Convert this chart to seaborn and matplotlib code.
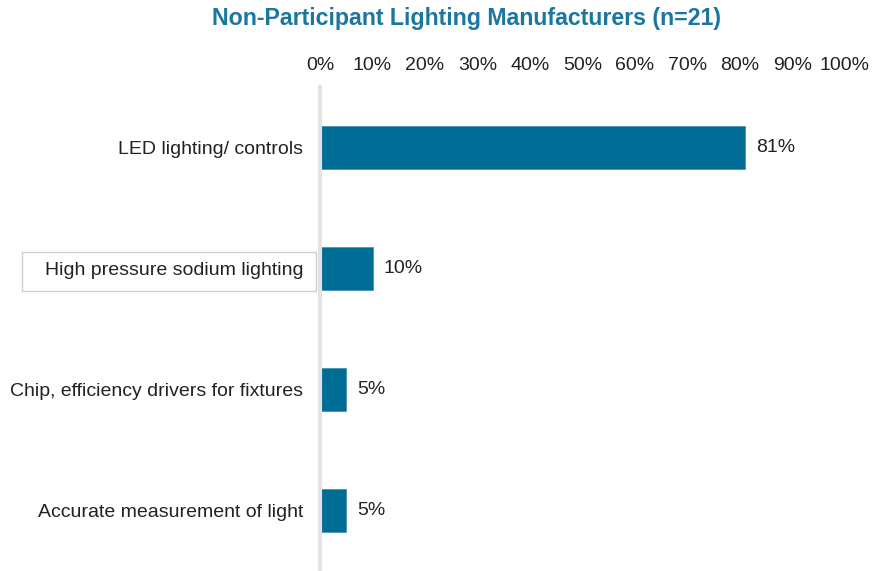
import matplotlib
matplotlib.use("Agg")
import matplotlib.pyplot as plt
import seaborn as sns
import pandas as pd
from matplotlib.patches import Rectangle

categories = ["LED lighting/ controls", "High pressure sodium lighting",
              "Chip, efficiency drivers for fixtures", "Accurate measurement of light"]
values = [81, 10, 5, 5]
tick_values = [0, 10, 20, 30, 40, 50, 60, 70, 80, 90, 100]
tick_labels = [f"{v}%" for v in tick_values]
title = "Non-Participant Lighting Manufacturers (n=21)"

sns.set_theme(style="white")
plt.rcParams['font.family'] = ['Liberation Sans', 'DejaVu Sans']

df = pd.DataFrame({"category": categories, "value": values})

fig = plt.figure(figsize=(8.73, 5.71), dpi=100)
ax = fig.add_axes([320/873, 0, 525/873, (571-87)/571])

sns.barplot(data=df, x="value", y="category", orient="h", color="#006D96",
            width=0.36, ax=ax, saturation=1, edgecolor="#4a93b3", linewidth=0.6)

ax.set_xlim(0, 100)
ax.set_ylim(3.5, -0.5)
ax.xaxis.tick_top()
ax.set_xticks(tick_values)
ax.set_xticklabels(tick_labels, fontsize=14, color="#222222")
ax.tick_params(axis="x", length=0, pad=9)
ax.tick_params(axis="y", length=0, pad=12, labelsize=14, labelcolor="#222222")
ax.set_xlabel("")
ax.set_ylabel("")
for s in ["top", "right", "bottom"]:
    ax.spines[s].set_visible(False)
ax.spines["left"].set_color("#e3e3e3")
ax.spines["left"].set_linewidth(3)

for c in ax.containers:
    ax.bar_label(c, labels=[f"{v}%" for v in values], padding=8, fontsize=14, color="#222222")

fig.text(467/873, 1 - 18/571, title, ha="center", va="center",
         fontsize=16.7, fontweight="bold", color="#1B76A0")

fig.add_artist(Rectangle((22/873, 1 - 291/571), (316-22)/873, 39/571,
                         transform=fig.transFigure, fill=False,
                         edgecolor="#cfcfcf", linewidth=1))

fig.savefig("out.png", dpi=100)
